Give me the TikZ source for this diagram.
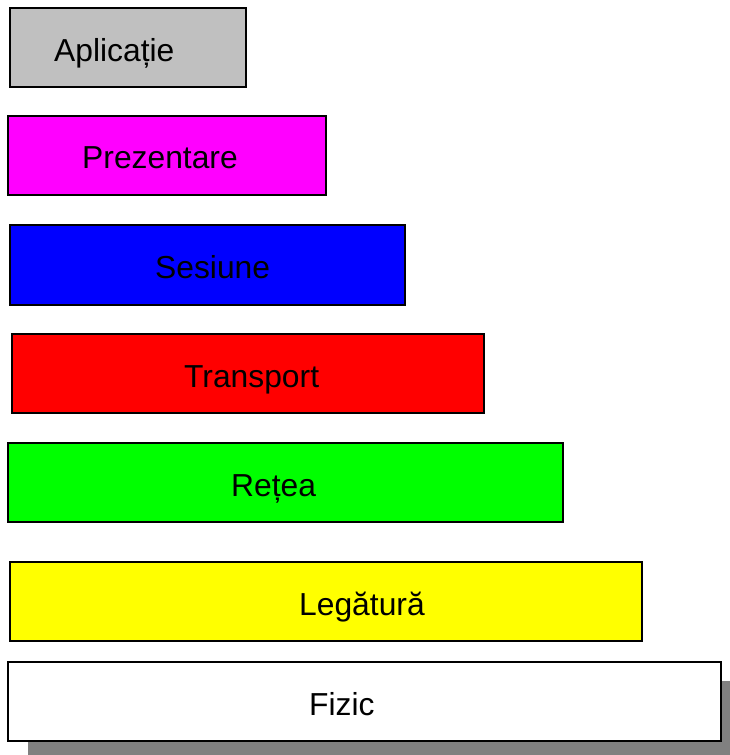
\documentclass[tikz,border=0pt]{standalone}
\usepackage{fontspec}
\setmainfont{Liberation Sans}
\definecolor{lgray}{HTML}{C0C0C0}
\definecolor{shadowgray}{HTML}{808080}
\definecolor{lmagenta}{HTML}{FF00FF}
\definecolor{lblue}{HTML}{0000FF}
\definecolor{lred}{HTML}{FF0000}
\definecolor{lgreen}{HTML}{00FF00}
\definecolor{lyellow}{HTML}{FFFF00}
\begin{document}
\begin{tikzpicture}[x=1pt,y=-1pt,
  layerbox/.style={draw=black, line width=1.4pt, inner sep=0pt, outer sep=0pt,
                   anchor=north west, minimum height=79pt},
  layertext/.style={anchor=base west, inner sep=0pt, font=\fontsize{31.8}{36}\selectfont}]
\useasboundingbox (0,0) rectangle (729,755);

% shadow under the bottom layer
\fill[shadowgray] (28,681) rectangle (735,755);

\node[layerbox, fill=lgray,    minimum width=236pt] (aplicatie)  at (10,8)   {};
\node[layerbox, fill=lmagenta, minimum width=318pt] (prezentare) at (8,116)  {};
\node[layerbox, fill=lblue,    minimum width=395pt, minimum height=80pt] (sesiune) at (10,225) {};
\node[layerbox, fill=lred,     minimum width=472pt] (transport)  at (12,334) {};
\node[layerbox, fill=lgreen,   minimum width=555pt] (retea)      at (8,443)  {};
\node[layerbox, fill=lyellow,  minimum width=632pt] (legatura)   at (10,562) {};
\node[layerbox, fill=white,    minimum width=713pt] (fizic)      at (8,662)  {};

\node[layertext] (taplicatie)  at (54,61)    {Aplicație};
\node[layertext] (tprezentare) at (82,168)   {Prezentare};
\node[layertext] (tsesiune)    at (155,278)  {Sesiune};
\node[layertext] (ttransport)  at (184,387)  {Transport};
\node[layertext] (tretea)      at (231,496)  {Rețea};
\node[layertext] (tlegatura)   at (299,615)  {Legătură};
\node[layertext] (tfizic)      at (309,715)  {Fizic};
\end{tikzpicture}
\end{document}
